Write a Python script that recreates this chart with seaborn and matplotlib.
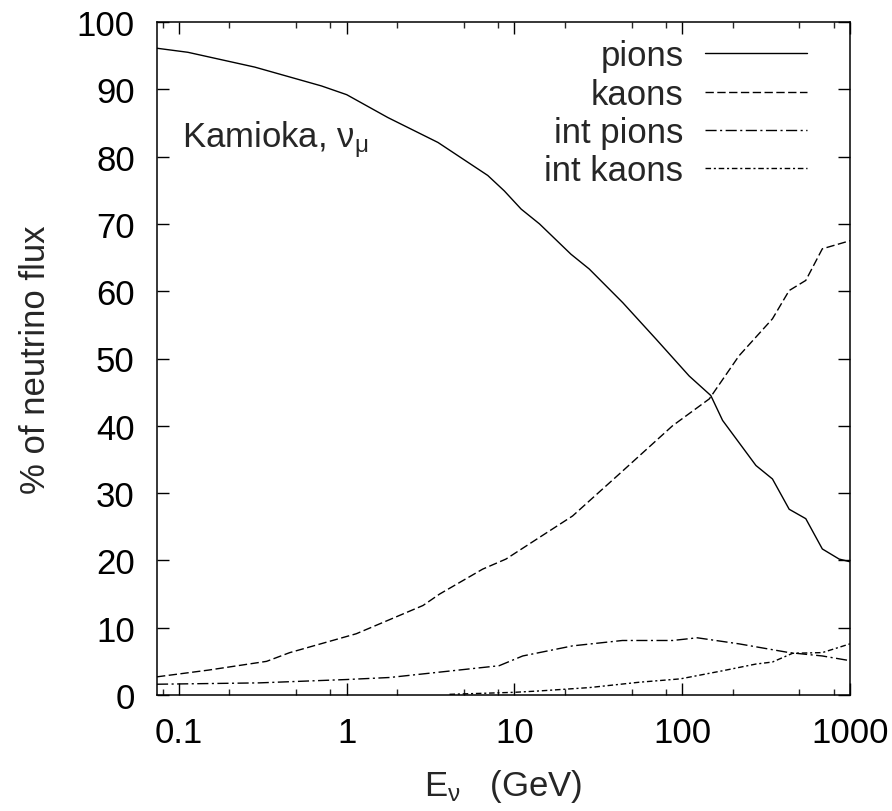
import numpy as np
import pandas as pd
import matplotlib
matplotlib.use("Agg")
import matplotlib.pyplot as plt
from matplotlib.ticker import FixedLocator, NullFormatter
import seaborn as sns

# Fraction of the muon-neutrino flux at Kamioka by parent type
pions_E = [0.074, 0.113, 0.283, 0.707, 1.0, 1.76, 3.5, 6.93, 8.7, 10.96, 14.1,
           21.7, 27.9, 44.2, 69.7, 110, 148, 174, 275, 345, 434, 545, 684, 861, 1000]
pions = [96.1, 95.5, 93.3, 90.5, 89.2, 85.8, 82.1, 77.2, 74.9, 72.2, 70.0,
         65.5, 63.3, 58.3, 52.9, 47.4, 44.5, 40.8, 34.1, 32.1, 27.6, 26.2, 21.7, 20.2, 19.8]

kaons_E = [0.074, 0.15, 0.333, 0.458, 1.14, 2.85, 3.58, 6.46, 8.9, 22.2, 44.2, 87.5,
           145, 218, 345, 434, 545, 684, 1000]
kaons = [2.7, 3.7, 5.0, 6.3, 9.1, 13.3, 15.0, 18.7, 20.2, 26.6, 33.3, 40.0,
         44.0, 50.4, 55.9, 60.1, 61.6, 66.3, 67.5]

int_pions_E = [0.074, 0.3, 1.0, 1.8, 3.58, 8.1, 11.2, 22.2, 44, 87.5, 123, 218, 434, 684, 1000]
int_pions = [1.6, 1.8, 2.3, 2.6, 3.4, 4.35, 5.8, 7.3, 8.1, 8.1, 8.5, 7.6, 6.3, 5.8, 5.1]

int_kaons_E = [4.1, 10, 14, 27.9, 55.6, 97.6, 174, 275, 345, 455, 684, 1000]
int_kaons = [0.1, 0.4, 0.6, 1.1, 1.9, 2.4, 3.6, 4.6, 4.9, 6.2, 6.3, 7.6]

series_names = ["pions", "kaons", "int pions", "int kaons"]
x_major = [0.1, 1, 10, 100, 1000]
x_major_labels = ["0.1", "1", "10", "100", "1000"]
y_major = [0, 10, 20, 30, 40, 50, 60, 70, 80, 90, 100]

sns.set_theme(style="ticks")
plt.rcParams["font.family"] = ["Liberation Sans", "DejaVu Sans"]
plt.rcParams["mathtext.fontset"] = "custom"
plt.rcParams["mathtext.rm"] = "Liberation Sans"
plt.rcParams["mathtext.it"] = "Liberation Sans"

FS = 25

fig = plt.figure(figsize=(8.92, 8.12), dpi=100)
ax = fig.add_axes([157 / 892, (812 - 696) / 812, (850 - 157) / 892, (696 - 23) / 812])

styles = [
    dict(linestyle="-"),
    dict(dashes=(6, 2.5)),
    dict(dashes=(8, 2.5, 1.5, 2.5)),
    dict(dashes=(4, 2, 1.5, 2)),
]
data = [(pions_E, pions), (kaons_E, kaons), (int_pions_E, int_pions), (int_kaons_E, int_kaons)]

for name, (xs, ys), st in zip(series_names, data, styles):
    df = pd.DataFrame({"E": xs, "pct": ys})
    sns.lineplot(data=df, x="E", y="pct", ax=ax, color="black", lw=1.0,
                 label=name, estimator=None, sort=False, **st)

ax.set_xscale("log")
ax.set_xlim(0.074, 1000)
ax.set_ylim(0, 100)

ax.xaxis.set_major_locator(FixedLocator(x_major))
ax.set_xticklabels(x_major_labels)
minor = [0.08] + [m * d for d in (0.1, 1, 10, 100) for m in (2, 5, 8)]
ax.xaxis.set_minor_locator(FixedLocator(minor))
ax.xaxis.set_minor_formatter(NullFormatter())
ax.yaxis.set_major_locator(FixedLocator(y_major))

ax.tick_params(which="major", direction="in", length=8.6, width=1.0,
               top=True, right=True, labelsize=FS, colors="black")
ax.tick_params(which="minor", direction="in", length=4.5, width=1.0,
               top=True, right=False, left=False)
ax.tick_params(axis="x", which="major", pad=15)
ax.tick_params(axis="y", which="major", pad=16)
for s in ax.spines.values():
    s.set_visible(True)
    s.set_linewidth(1.1)
    s.set_color("black")

ax.set_xlabel(r"E$_\mathregular{\nu}$   (GeV)", fontsize=FS, labelpad=13)
ax.set_ylabel("% of neutrino flux", fontsize=FS, labelpad=18)

ax.text(0.036, 0.815, r"Kamioka, $\mathregular{\nu_\mu}$", transform=ax.transAxes,
        fontsize=FS, ha="left", va="baseline")

leg = ax.legend(loc="upper right", bbox_to_anchor=(0.938, 0.974), frameon=False,
                markerfirst=False, fontsize=FS, handlelength=2.94, handletextpad=0.62,
                labelspacing=0.15, borderpad=0, borderaxespad=0)
for t in leg.get_texts():
    t.set_ha("right")

fig.savefig("out.png", dpi=100, facecolor="white")
